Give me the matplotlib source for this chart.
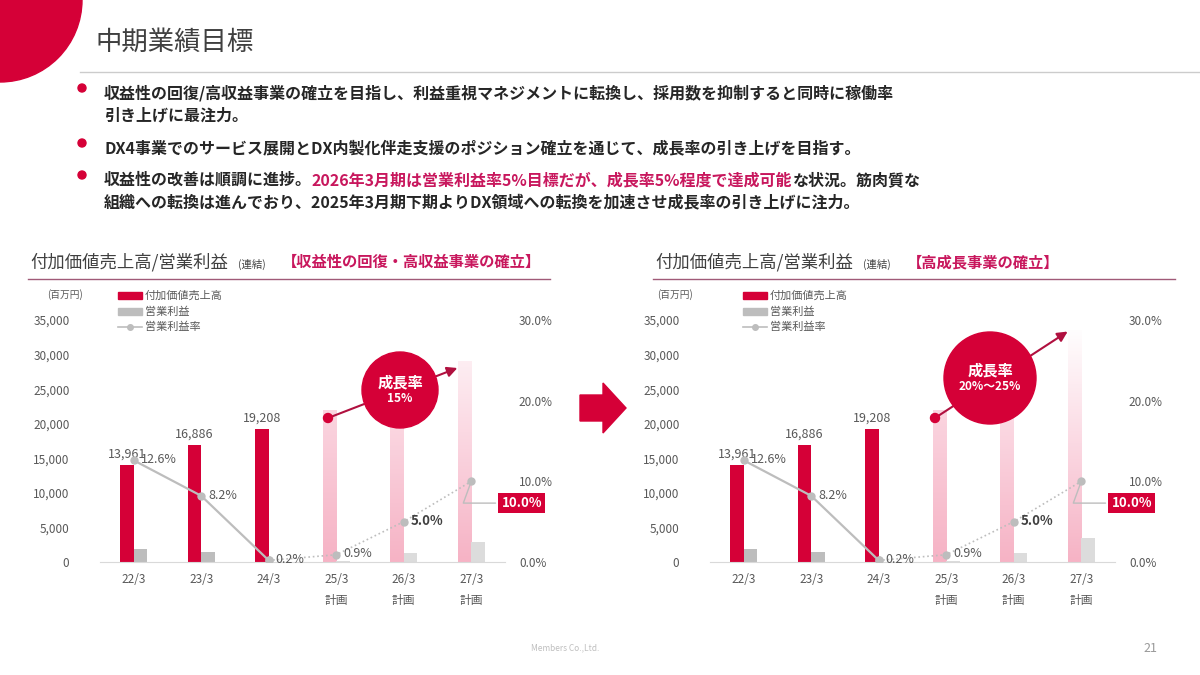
import matplotlib
matplotlib.use("Agg")
import matplotlib.pyplot as plt
import numpy as np
from matplotlib.patches import Circle, Polygon, Rectangle, FancyArrowPatch
from matplotlib.colors import LinearSegmentedColormap

plt.rcParams['font.family'] = ['Noto Sans CJK JP', 'DejaVu Sans']

categories = ["22/3", "23/3", "24/3", "25/3\n計画", "26/3\n計画", "27/3\n計画"]
sales_left = [13961, 16886, 19208, 22000, 25300, 29000]
sales_right = [13961, 16886, 19208, 22000, 26500, 33500]
profit_left = [1900, 1500, 40, 200, 1270, 2900]
profit_right = [1900, 1500, 40, 200, 1270, 3400]
margin = [12.6, 8.2, 0.2, 0.9, 5.0, 10.0]
margin_labels = ["12.6%", "8.2%", "0.2%", "0.9%", "5.0%", "10.0%"]
sales_labels = ["13,961", "16,886", "19,208"]
n_actual = 3

RED = "#d50037"
PINK = "#c8175d"
GRAY = "#bdbdbd"
TXT = "#595959"

fig = plt.figure(figsize=(12, 6.75), dpi=100)

def fx(x): return x / 1200
def fy(y): return 1 - y / 675

cmap_plan = LinearSegmentedColormap.from_list("p", ["#f6b3c5", "#fbd9e3", "#ffffff"])

def draw_chart(left_px, sales, profit, cat_labels):
    ax = fig.add_axes([fx(left_px), fy(562), 405 / 1200, 242 / 675])
    x = np.arange(len(cat_labels))
    w = 0.2
    bars = ax.bar(x - w / 2, sales, w, color=RED, zorder=2)
    for i, b in enumerate(bars):
        if i >= n_actual:
            b.set_facecolor("none")
            h = sales[i]
            top_val = 0.35 + 0.65 * (h - 20000) / 14000
            g = np.linspace(0, max(top_val, 0.3), 100).reshape(-1, 1)
            im = ax.imshow(g, cmap=cmap_plan, vmin=0, vmax=1, origin="lower",
                           extent=(b.get_x(), b.get_x() + w, 0, h), aspect="auto", zorder=2)
            im.set_clip_path(b)
    pcol = [GRAY if i < n_actual else "#dcdcdc" for i in range(len(profit))]
    ax.bar(x + w / 2, profit, w, color=pcol, zorder=2)
    for i in range(n_actual):
        ax.text(x[i] - w / 2, sales[i] + 700, sales_labels[i], ha="center", va="bottom",
                fontsize=9, color=TXT)
    ax.set_xlim(-0.5, 5.5)
    ax.set_ylim(0, 35000)
    ax.set_yticks(np.arange(0, 35001, 5000))
    ax.set_yticklabels([f"{v:,}" for v in range(0, 35001, 5000)], fontsize=8.5, color=TXT)
    ax.set_xticks(x)
    ax.set_xticklabels(cat_labels, fontsize=8.5, color=TXT, linespacing=1.8)
    for s in ["top", "right", "left"]:
        ax.spines[s].set_visible(False)
    ax.spines["bottom"].set_color("#d9d9d9")
    ax.tick_params(length=0, pad=8)
    ax.tick_params(axis="y", pad=22)
    ax.text(-0.13, 1.09, "(百万円)", transform=ax.transAxes, fontsize=7, color=TXT)
    ax2 = ax.twinx()
    ax2.set_ylim(0, 30)
    ax2.set_yticks([0, 10, 20, 30])
    ax2.set_yticklabels(["0.0%", "10.0%", "20.0%", "30.0%"], fontsize=8.5, color=TXT)
    for s in ["top", "right", "left", "bottom"]:
        ax2.spines[s].set_visible(False)
    ax2.tick_params(length=0, pad=10)
    ax2.plot(x[:n_actual], margin[:n_actual], color=GRAY, lw=1.6, marker="o", ms=5, zorder=3)
    ax2.plot(x[n_actual - 1:], margin[n_actual - 1:], color=GRAY, lw=1.2, ls=":", marker="o",
             ms=5, zorder=3)
    for i in range(5):
        bold = i == 4
        ax2.text(x[i] + 0.1, margin[i] + 0.1, margin_labels[i], fontsize=9 if not bold else 9.5,
                 color=TXT if not bold else "#404040", fontweight="bold" if bold else "normal",
                 ha="left", va="center", zorder=4)
    ax2.annotate(margin_labels[5], xy=(x[5], margin[5]), xytext=(x[5] + 0.45, 7.3),
                 fontsize=9.5, color="white", fontweight="bold", ha="left", va="center",
                 bbox=dict(boxstyle="square,pad=0.25", fc=RED, ec="none"),
                 arrowprops=dict(arrowstyle="-", color=GRAY, lw=1,
                                 connectionstyle="angle,angleA=0,angleB=70"), zorder=5)
    return ax

ax_l = draw_chart(100, sales_left, profit_left, categories)
ax_r = draw_chart(710, sales_right, profit_right, categories)

ov = fig.add_axes([0, 0, 1, 1], zorder=10)
ov.set_xlim(0, 1200)
ov.set_ylim(675, 0)
ov.axis("off")
ov.patch.set_alpha(0)

ov.add_patch(Circle((0, 0), 82, color=RED, zorder=1))
ov.text(95, 42, "中期業績目標", fontsize=19, color="#404040", va="center")
ov.plot([80, 1200], [72, 72], color="#cccccc", lw=1)

def rich(x, y, parts, size=12):
    r = fig.canvas.get_renderer()
    for txt, col in parts:
        t = ov.text(x, y, txt, fontsize=size, color=col, fontweight="bold", va="center")
        bb = t.get_window_extent(r)
        x += bb.width * 1200 / fig.bbox.width

bul = [(93, [("収益性の回復/高収益事業の確立を目指し、利益重視マネジメントに転換し、採用数を抑制すると同時に稼働率", "#262626")]),
       (115, [("引き上げに最注力。", "#262626")]),
       (148, [("DX4事業でのサービス展開とDX内製化伴走支援のポジション確立を通じて、成長率の引き上げを目指す。", "#262626")]),
       (180, [("収益性の改善は順調に進捗。", "#262626"), ("2026年3月期は営業利益率5%目標だが、成長率5%程度で達成可能", PINK), ("な状況。筋肉質な", "#262626")]),
       (202, [("組織への転換は進んでおり、2025年3月期下期よりDX領域への転換を加速させ成長率の引き上げに注力。", "#262626")])]
for y, parts in bul:
    rich(104, y, parts, size=11.5)
for y in (88, 143, 175):
    ov.add_patch(Circle((82, y), 4, color=RED))

for x0, sub in [(30, "【収益性の回復・高収益事業の確立】"), (655, "【高成長事業の確立】")]:
    ov.text(x0, 262, "付加価値売上高/営業利益", fontsize=12.5, color="#404040", va="center")
    ov.text(x0 + 208, 264, "(連結)", fontsize=7.5, color="#404040", va="center")
    ov.text(x0 + 252, 262, sub, fontsize=11, color=PINK, fontweight="bold", va="center")
    ov.plot([x0 - 2, x0 + 520], [279, 279], color="#a05a78", lw=1)
    lx = x0 + 88
    ov.add_patch(Rectangle((lx, 292), 24, 7, color=RED))
    ov.text(lx + 27, 296, "付加価値売上高", fontsize=8, color=TXT, va="center")
    ov.add_patch(Rectangle((lx, 308), 24, 7, color=GRAY))
    ov.text(lx + 27, 312, "営業利益", fontsize=8, color=TXT, va="center")
    ov.plot([lx, lx + 24], [327, 327], color=GRAY, lw=1.2)
    ov.plot([lx + 12], [327], marker="o", color=GRAY, ms=4)
    ov.text(lx + 27, 327, "営業利益率", fontsize=8, color=TXT, va="center")

for (sx, sy, ex, ey, cx, cy, rr, l2) in [(328, 418, 460, 367, 400, 390, 38, "15%"),
                                          (935, 418, 1070, 330, 990, 378, 46, "20%～25%")]:
    ov.add_patch(FancyArrowPatch((sx, sy), (ex, ey), arrowstyle="-|>,head_length=6,head_width=3",
                                 color="#b0103f", lw=1.5, zorder=2))
    ov.add_patch(Circle((sx, sy), 4.5, color=RED, zorder=3))
    ov.add_patch(Circle((cx, cy), rr, color=RED, zorder=4))
    ov.text(cx, cy - 8, "成長率", fontsize=11, color="white", fontweight="bold", ha="center",
            va="center", zorder=5)
    ov.text(cx, cy + 9, l2, fontsize=8.5, color="white", fontweight="bold", ha="center",
            va="center", zorder=5)

ov.add_patch(Polygon([(580, 395), (603, 395), (603, 383), (626, 408), (603, 433), (603, 421), (580, 421)],
                     color=RED))

ov.text(565, 648, "Members Co.,Ltd.", fontsize=6, color="#bfbfbf", ha="center", va="center")
ov.text(1150, 648, "21", fontsize=9, color="#999999", ha="center", va="center")

fig.savefig("out.png", dpi=100)
